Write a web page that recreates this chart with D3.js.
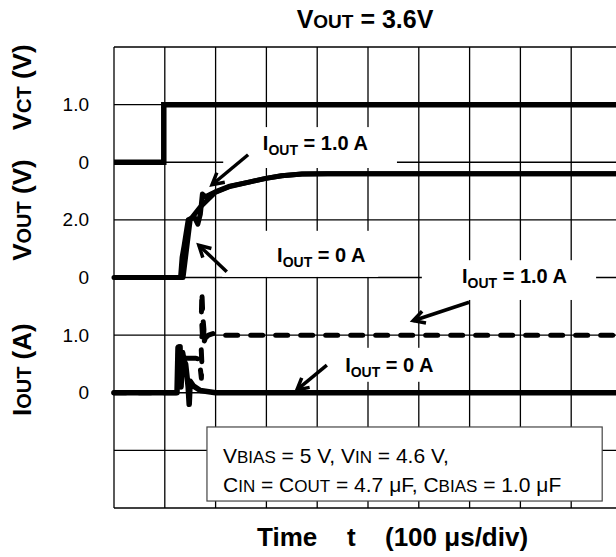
<!DOCTYPE html>
<html><head><meta charset="utf-8">
<script src="https://cdn.jsdelivr.net/npm/d3@7"></script>
<style>body{margin:0;background:#fff}svg{display:block}text{font-family:Arial,'Liberation Sans',sans-serif;fill:#000}</style>
</head><body><svg id="c" width="616" height="557"></svg>
<script>
// ---- data (time in µs, 100 µs/div) ----
const timeTicks = [0,100,200,300,400,500,600,700,800,900,1000];
const vctTicks = [0,1], voutTicks = [0,2], ioutTicks = [0,1];
const vct = [[0,0],[98,0],[98,1],[1000,1]];
const voutLoad1A = [[0,0],[136,0],[150,2.0],[169,2.43],[199,2.95],[228,3.16],[268,3.32],[299,3.44],[330,3.53],[370,3.59],[420,3.6],[1000,3.6]];
const voutLoad0A = [[0,0],[131,0],[134,0.7],[138,1.1],[146,2.0],[158,2.1],[165,1.85],[170,2.2],[174,2.9],[180,2.8],[199,2.97],[228,3.17],[268,3.32],[299,3.44],[330,3.53],[370,3.59],[420,3.6],[1000,3.6]];
const ioutLoad1A = [[0,0],[125,0],[127,0.8],[131,0.62],[142,0.6],[160,0.6],[168,0.58],[172,0.25],[173,0.5],[171,0.9],[174,1.0],[172,1.35],[173,1.75],[175,1.3],[177,1.1],[176,0.85],[180,0.95],[186,1.0],[196,1.03],[210,1.0],[1000,1.0]];
const ioutLoad0A = [[0,0],[124,0],[126,0.78],[128,0.3],[130,0.8],[132,0.1],[135,0.7],[138,0.55],[141,0.5],[146,0.1],[148,-0.2],[150,0.2],[156,0.12],[170,0.04],[200,0],[1000,0]];
const titleParts = [["V",25],["OUT",19],[" = 3.6V",25]];
const yTitles = [{parts:[["V",26],["CT",20],[" (V)",26]],div:7.3},{parts:[["V",26],["OUT",20],[" (V)",26]],div:5.17},{parts:[["I",26],["OUT",20],[" (A)",26]],div:2.4}];
// annotations: text position (t, div), white box [t0,t1,div0,div1], arrow tail/head
const notes = [
 {lab:"1.0 A", t:293, d:6.21, box:[215,557,5.90,6.61], tail:[264,6.13], head:[193,5.61]},
 {lab:"0 A",   t:321, d:4.27, box:[213,520,4.01,4.81], tail:[222,4.10], head:[167,4.56]},
 {lab:"1.0 A", t:685, d:3.90, box:[606,949,3.61,4.30], tail:[699,3.57], head:[589,3.25]},
 {lab:"0 A",   t:455, d:2.36, box:[425,646,2.19,2.78], tail:[419,2.48], head:[360,2.05]}
];
const legendBox = [183,961,0.121,1.406];
const legendLines = [
 [["V",21],["BIAS",17],[" = 5 V, V",21],["IN",17],[" = 4.6 V,",21]],
 [["C",21],["IN",17],[" = C",21],["OUT",17],[" = 4.7 \u03bcF, C",21],["BIAS",17],[" = 1.0 \u03bcF",21]]
];

// ---- scales ----
const svg = d3.select("#c");
const x = d3.scaleLinear().domain([0,1000]).range([114,622]);
const yDiv = d3.scaleLinear().domain([0,8]).range([508,47]);
const yVct = d3.scaleLinear().domain([-6,2]).range([508,47]);
const yVout = d3.scaleLinear().domain([-8,8]).range([508,47]);
const yIout = d3.scaleLinear().domain([-2,6]).range([508,47]);

// ---- grid ----
const g = svg.append("g");
g.selectAll("line.v").data(timeTicks).join("line")
 .attr("x1",d=>x(d)).attr("x2",d=>x(d)).attr("y1",yDiv(8)).attr("y2",yDiv(0))
 .attr("stroke","#000").attr("stroke-width",1.3);
g.selectAll("line.h").data(d3.range(0,9)).join("line")
 .attr("x1",x(0)).attr("x2",x(1000)).attr("y1",d=>yDiv(d)).attr("y2",d=>yDiv(d))
 .attr("stroke","#000").attr("stroke-width",1.3);

// ---- tick labels ----
function yAxis(scale, vals){
  const a = d3.axisLeft(scale).tickValues(vals).tickSize(0).tickPadding(25)
    .tickFormat(d=> d===0 ? "0" : d3.format(".1f")(d));
  const ga = svg.append("g").attr("transform",`translate(${x(0)},0)`).call(a);
  ga.select(".domain").remove();
  ga.selectAll("text").attr("font-size",19).attr("font-family","Arial,'Liberation Sans',sans-serif").attr("fill","#000");
}
yAxis(yVct, vctTicks); yAxis(yVout, voutTicks); yAxis(yIout, ioutTicks);

// ---- traces ----
const line = ys => d3.line().x(d=>x(d[0])).y(d=>ys(d[1]));
svg.append("path").attr("d",line(yVct)(vct)).attr("fill","none").attr("stroke","#000").attr("stroke-width",5.5).attr("stroke-linejoin","miter");
svg.append("path").attr("d",line(yVout)(voutLoad0A)).attr("fill","none").attr("stroke","#000").attr("stroke-width",5).attr("stroke-linejoin","round").attr("stroke-linecap","round");
svg.append("path").attr("d",line(yVout)(voutLoad1A)).attr("fill","none").attr("stroke","#000").attr("stroke-width",5).attr("stroke-linejoin","round");
svg.append("path").attr("d",line(yIout)(ioutLoad0A)).attr("fill","none").attr("stroke","#000").attr("stroke-width",5.5).attr("stroke-linejoin","round").attr("stroke-linecap","round");
svg.append("path").attr("d",line(yIout)(ioutLoad1A)).attr("fill","none").attr("stroke","#000").attr("stroke-width",5).attr("stroke-linejoin","round").attr("stroke-linecap","round").attr("stroke-dasharray","12,13");

// ---- annotations ----
notes.forEach(n=>{
  svg.append("rect").attr("x",x(n.box[0])).attr("y",yDiv(n.box[3]))
    .attr("width",x(n.box[1])-x(n.box[0])).attr("height",yDiv(n.box[2])-yDiv(n.box[3])).attr("fill","#fff");
});
notes.forEach(n=>{
  const t = svg.append("text").attr("x",x(n.t)).attr("y",yDiv(n.d)).attr("font-weight","bold");
  t.append("tspan").attr("font-size",20).text("I");
  t.append("tspan").attr("font-size",14).attr("dy",5).text("OUT");
  t.append("tspan").attr("font-size",20).attr("dy",-5).text(" = "+n.lab);
  const x1=x(n.tail[0]), y1=yDiv(n.tail[1]), x2=x(n.head[0]), y2=yDiv(n.head[1]);
  const ang = Math.atan2(y2-y1,x2-x1), L=13, sp=0.5;
  svg.append("line").attr("x1",x1).attr("y1",y1).attr("x2",x2).attr("y2",y2).attr("stroke","#000").attr("stroke-width",3.5);
  svg.append("path").attr("d",`M${x2-L*Math.cos(ang-sp)},${y2-L*Math.sin(ang-sp)}L${x2},${y2}L${x2-L*Math.cos(ang+sp)},${y2-L*Math.sin(ang+sp)}`)
    .attr("fill","none").attr("stroke","#000").attr("stroke-width",3.5).attr("stroke-linejoin","miter");
});

// ---- legend ----
svg.append("rect").attr("x",x(legendBox[0])).attr("y",yDiv(legendBox[3]))
  .attr("width",x(legendBox[1])-x(legendBox[0])).attr("height",yDiv(legendBox[2])-yDiv(legendBox[3]))
  .attr("fill","#fff").attr("stroke","#444").attr("stroke-width",1.2);
legendLines.forEach((parts,i)=>{
  const t = svg.append("text").attr("x",223).attr("y",463+i*29);
  parts.forEach(p=>t.append("tspan").attr("font-size",p[1]).text(p[0]));
});

// ---- titles ----
const tt = svg.append("text").attr("x",365).attr("y",28).attr("text-anchor","middle").attr("font-weight","bold");
titleParts.forEach(p=>tt.append("tspan").attr("font-size",p[1]).text(p[0]));
yTitles.forEach(o=>{
  const t = svg.append("text").attr("transform",`translate(31,${yDiv(o.div)}) rotate(-90)`).attr("text-anchor","middle").attr("font-weight","bold");
  o.parts.forEach(p=>t.append("tspan").attr("font-size",p[1]).text(p[0]));
});
const xt = svg.append("text").attr("y",546).attr("font-weight","bold").attr("font-size",26);
xt.append("tspan").attr("x",257).text("Time");
xt.append("tspan").attr("x",347).text("t");
xt.append("tspan").attr("x",385).text("(100 \u03bcs/div)");
</script></body></html>
